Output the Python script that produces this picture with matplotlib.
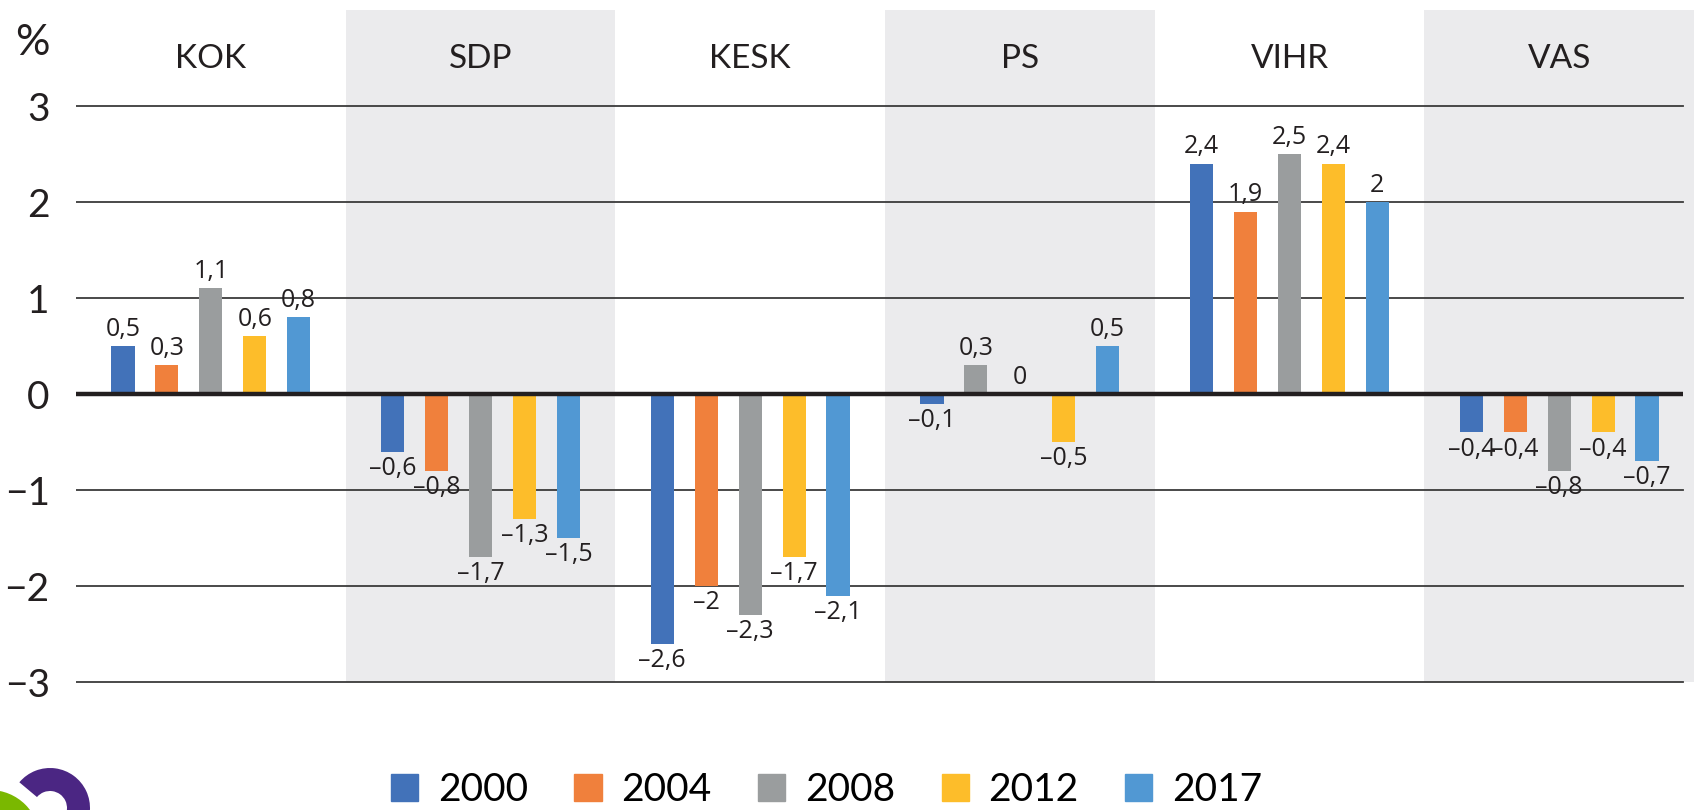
import numpy as np
import matplotlib
matplotlib.use('Agg')
import matplotlib.pyplot as plt
from matplotlib.patches import Patch, Wedge, Circle

parties = ['KOK', 'SDP', 'KESK', 'PS', 'VIHR', 'VAS']
years = ['2000', '2004', '2008', '2012', '2017']
colors = ['#4272B9', '#F0803C', '#9A9D9E', '#FDBD2A', '#5198D3']

v2000 = [0.5, -0.6, -2.6, -0.1, 2.4, -0.4]
v2004 = [0.3, -0.8, -2.0, 0.3, 1.9, -0.4]
v2008 = [1.1, -1.7, -2.3, 0.0, 2.5, -0.8]
v2012 = [0.6, -1.3, -1.7, -0.5, 2.4, -0.4]
v2017 = [0.8, -1.5, -2.1, 0.5, 2.0, -0.7]
series = [v2000, v2004, v2008, v2012, v2017]

# in the source the PS 2004 bar is drawn grey
color_fix = {(3, 1): '#9A9D9E'}

ink = '#231F20'
W, H = 1694, 810
fig = plt.figure(figsize=(W / 100, H / 100), dpi=100)
ax = fig.add_axes([76 / W, (H - 684) / H, (W - 76) / W, 674 / H])
ax.set_xlim(-0.5, 5.5)
ax.set_ylim(-3.02, 4.0)

x = np.arange(len(parties))
for i in range(1, len(parties), 2):
    ax.fill_between([i - 0.5, i + 0.5], -3, 4.0, color='#EBEBED', lw=0, zorder=0)

for g in [-3, -2, -1, 1, 2, 3]:
    ax.plot([-0.5, 5.458], [g, g], color='#3A3A3A', lw=1.3, zorder=1)
ax.plot([-0.5, 5.458], [0, 0], color=ink, lw=3.2, zorder=4, solid_capstyle='butt')

step = 0.163
width = 0.086
for k, vals in enumerate(series):
    xs = x + (k - 2) * step
    cols = [color_fix.get((i, k), colors[k]) for i in range(len(parties))]
    ax.bar(xs, vals, width=width, color=cols, zorder=2)
    for xi, v in zip(xs, vals):
        txt = f'{abs(v):g}'.replace('.', ',')
        if v < 0:
            ax.annotate('\u2013' + txt, (xi, v), xytext=(0, -3), textcoords='offset points',
                        ha='center', va='top', fontsize=18, family=['Open Sans', 'DejaVu Sans'],
                        color=ink, zorder=5)
        else:
            ax.annotate(txt, (xi, v), xytext=(0, 3), textcoords='offset points',
                        ha='center', va='bottom', fontsize=18, family=['Open Sans', 'DejaVu Sans'],
                        color=ink, zorder=5)

for i, p in enumerate(parties):
    ax.text(i, 3.49, p, ha='center', va='center', fontsize=24, family=['Lato', 'DejaVu Sans'], color=ink)

ax.set_yticks([3, 2, 1, 0, -1, -2, -3])
ax.set_yticklabels(['3', '2', '1', '0', '\u22121', '\u22122', '\u22123'],
                   fontsize=28, family=['Lato', 'DejaVu Sans'], color=ink)
ax.tick_params(axis='y', length=0, pad=19)
ax.set_xticks([])
for s in ax.spines.values():
    s.set_visible(False)
ax.patch.set_alpha(0)

fig.text(32 / W, 1 - 43 / H, '%', ha='center', va='center', fontsize=31,
         family=['Lato', 'DejaVu Sans'], color=ink)

handles = [Patch(color=c) for c in colors]
fig.legend(handles, years, loc='upper left', bbox_to_anchor=(391 / W, 1 - 772 / H),
           ncol=5, frameon=False, prop={'family': ['Lato', 'DejaVu Sans'], 'size': 28},
           handlelength=0.7, handleheight=0.7, handletextpad=0.5, columnspacing=1.2,
           borderpad=0, borderaxespad=0)

# logo fragment, bottom left corner
lax = fig.add_axes([0, 0, 100 / W, 60 / H])
lax.set_xlim(0, 100)
lax.set_ylim(0, 60)
lax.axis('off')
lax.add_patch(Circle((-10, -30), 50, color='#7AB800', lw=0))
lax.add_patch(Wedge((50, 2), 40, -90, 140, width=23, color='#4B2683', lw=0))

fig.savefig('out.png', dpi=100)
